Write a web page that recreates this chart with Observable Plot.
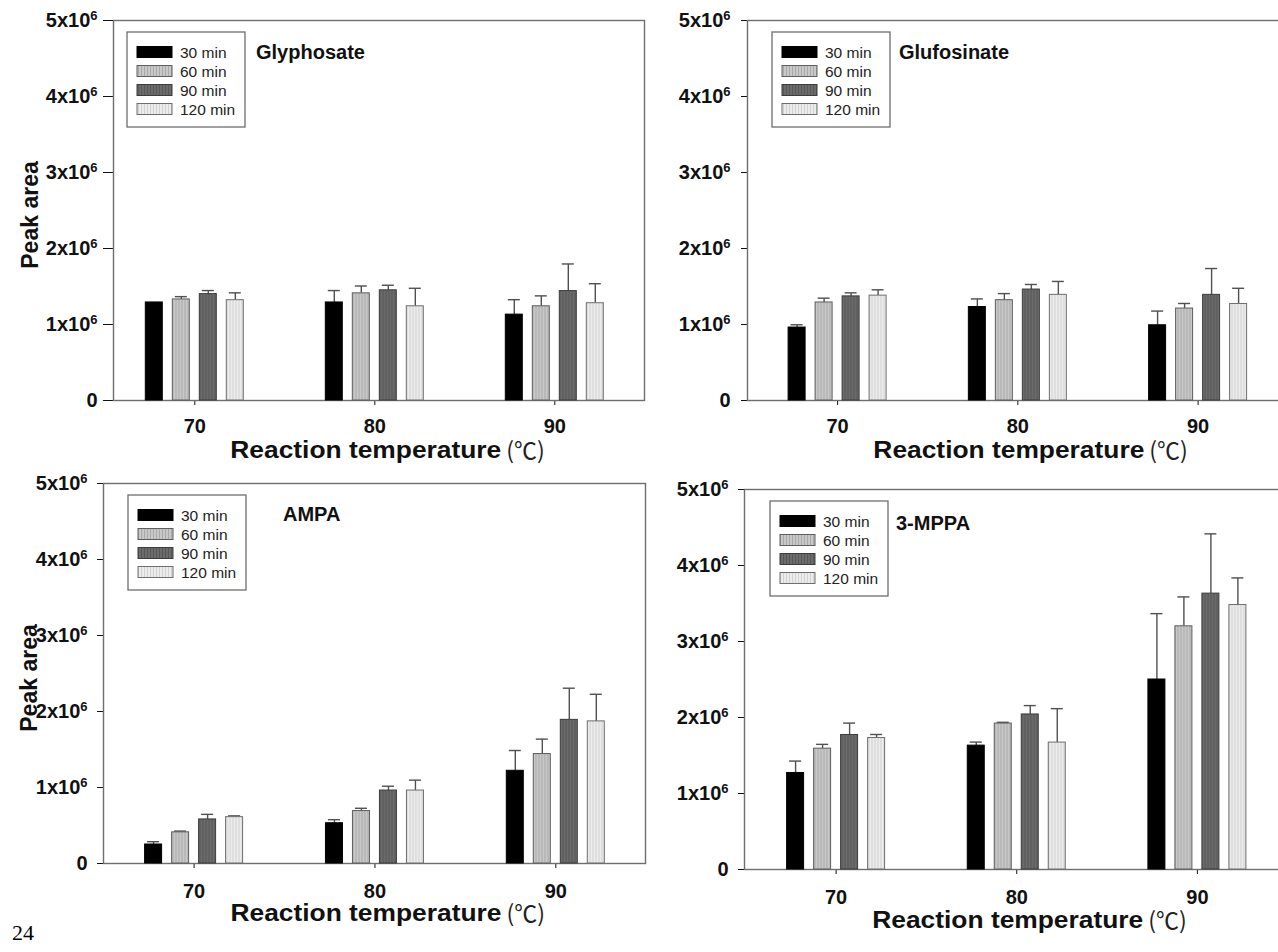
<!DOCTYPE html>
<html>
<head>
<meta charset="utf-8">
<script src="https://cdn.jsdelivr.net/npm/d3@7"></script>
<script src="https://cdn.jsdelivr.net/npm/@observablehq/plot@0.6"></script>
<style>
html, body { margin: 0; padding: 0; background: #fff; overflow: hidden; }
#page { position: relative; width: 1278px; height: 952px; overflow: hidden; background: #fff; }
.panel { position: absolute; }
#pagenum { position: absolute; left: 12px; top: 920px; font: 22px "Liberation Serif", "Times New Roman", serif; color: #000; }
</style>
</head>
<body>
<svg width="0" height="0" style="position:absolute">
  <defs>
    <pattern id="pat60" patternUnits="userSpaceOnUse" width="3" height="10">
      <rect width="3" height="10" fill="#c8c8c8"></rect>
      <rect width="1" height="10" fill="#a9a9a9"></rect>
    </pattern>
    <pattern id="pat90" patternUnits="userSpaceOnUse" width="3" height="10">
      <rect width="3" height="10" fill="#6b6b6b"></rect>
      <rect width="1" height="10" fill="#575757"></rect>
    </pattern>
    <pattern id="pat120" patternUnits="userSpaceOnUse" width="3" height="10">
      <rect width="3" height="10" fill="#ececec"></rect>
      <rect width="1" height="10" fill="#d2d2d2"></rect>
    </pattern>
  </defs>
</svg>
<div id="page"></div>
<div id="pagenum">24</div>
<script>
// ---------- data ----------
const temps = [70, 80, 90];
const series = ["30 min", "60 min", "90 min", "120 min"];
const yTicks = [0, 1e6, 2e6, 3e6, 4e6, 5e6];
const compounds = ["Glyphosate", "Glufosinate", "AMPA", "3-MPPA"];
const xTitle = "Reaction temperature";
const xUnit = "(℃)";
const yTitle = "Peak area";

// rows = temperatures (70, 80, 90); columns = series (30, 60, 90, 120 min)
const glyphosateMean = [[1.29e6, 1.33e6, 1.40e6, 1.32e6], [1.29e6, 1.41e6, 1.45e6, 1.24e6], [1.13e6, 1.24e6, 1.44e6, 1.28e6]];
const glyphosateErr  = [[0, 0.03e6, 0.04e6, 0.09e6], [0.15e6, 0.09e6, 0.06e6, 0.23e6], [0.19e6, 0.13e6, 0.35e6, 0.25e6]];
const glufosinateMean = [[0.96e6, 1.29e6, 1.37e6, 1.38e6], [1.23e6, 1.32e6, 1.46e6, 1.39e6], [0.99e6, 1.21e6, 1.39e6, 1.27e6]];
const glufosinateErr  = [[0.03e6, 0.05e6, 0.04e6, 0.07e6], [0.10e6, 0.08e6, 0.06e6, 0.17e6], [0.18e6, 0.06e6, 0.34e6, 0.20e6]];
const ampaMean = [[0.25e6, 0.41e6, 0.58e6, 0.61e6], [0.53e6, 0.69e6, 0.96e6, 0.96e6], [1.22e6, 1.44e6, 1.89e6, 1.87e6]];
const ampaErr  = [[0.03e6, 0.01e6, 0.06e6, 0.01e6], [0.04e6, 0.03e6, 0.05e6, 0.13e6], [0.26e6, 0.19e6, 0.41e6, 0.35e6]];
const mppaMean = [[1.27e6, 1.59e6, 1.77e6, 1.73e6], [1.63e6, 1.92e6, 2.04e6, 1.67e6], [2.50e6, 3.20e6, 3.63e6, 3.48e6]];
const mppaErr  = [[0.15e6, 0.05e6, 0.15e6, 0.04e6], [0.04e6, 0.01e6, 0.11e6, 0.44e6], [0.86e6, 0.38e6, 0.78e6, 0.35e6]];

// ---------- styles ----------
const fills = ["#000000", "url(#pat60)", "url(#pat90)", "url(#pat120)"];
const strokes = ["#000000", "#5e5e5e", "#3c3c3c", "#6e6e6e"];
const barOffsets = [-40.5, -13.5, 13.5, 40.5];
const barHalf = 8.5, capHalf = 6;
const FONT = "'Liberation Sans', Arial, Helvetica, sans-serif";

const panels = [
  {name: compounds[0], mean: glyphosateMean, err: glyphosateErr, left: 0, top: 0, width: 648, height: 470,
   mL: 113, mT: 20, mR: 4, mB: 70, xRange: [194.3, 554.3], yLabelX: 30, legendDx: 14, titleDx: 143, titleDy: 39, yTickSize: 10, yTickPad: 6, xTickPad: 13, xLabDy: 58},
  {name: compounds[1], mean: glufosinateMean, err: glufosinateErr, left: 648, top: 0, width: 640, height: 470,
   mL: 99, mT: 20, mR: 0, mB: 70, xRange: [189.1, 549.6], yLabelX: null, legendDx: 25, titleDx: 152, titleDy: 39, yTickSize: 6, yTickPad: 11, xTickPad: 13, xLabDy: 58},
  {name: compounds[2], mean: ampaMean, err: ampaErr, left: 0, top: 463, width: 648, height: 480,
   mL: 103, mT: 20, mR: 3, mB: 80, xRange: [193.6, 555.3], yLabelX: 29, legendDx: 25, titleDx: 180, titleDy: 38, yTickSize: 6, yTickPad: 10, xTickPad: 15, xLabDy: 58},
  {name: compounds[3], mean: mppaMean, err: mppaErr, left: 648, top: 469, width: 640, height: 480,
   mL: 96, mT: 20, mR: 0, mB: 80, xRange: [187.6, 548.9], yLabelX: null, legendDx: 26, titleDx: 152, titleDy: 41, yTickSize: 6, yTickPad: 10, xTickPad: 15, xLabDy: 59}
];

function annotate(p) {
  return (index, scales, values, dims) => {
    const {height, marginLeft, marginTop, marginBottom} = dims;
    const x0 = marginLeft, y0 = marginTop, y1 = height - marginBottom;
    const g = d3.create("svg:g").attr("text-anchor", "start");
    // panel title
    g.append("text").attr("x", x0 + p.titleDx).attr("y", y0 + p.titleDy).attr("text-anchor", "start")
      .attr("font-family", FONT).attr("font-weight", "bold").attr("font-size", 20).attr("fill", "#111")
      .text(p.name);
    // legend
    const lx = x0 + p.legendDx, ly = y0 + 12;
    g.append("rect").attr("x", lx).attr("y", ly).attr("width", 118).attr("height", 95)
      .attr("fill", "#fff").attr("stroke", "#6e6e6e").attr("stroke-width", 1.3);
    series.forEach((s, j) => {
      const cy = ly + 20 + j * 19;
      g.append("rect").attr("x", lx + 10).attr("y", cy - 5.5).attr("width", 35).attr("height", 11)
        .attr("fill", fills[j]).attr("stroke", strokes[j]).attr("stroke-width", 1);
      g.append("text").attr("x", lx + 53).attr("y", cy).attr("dy", "0.36em").attr("text-anchor", "start")
        .attr("font-family", FONT).attr("font-weight", "normal").attr("font-size", 15.5).attr("fill", "#222").text(s);
    });
    // x axis title
    const xs = scales.x(temps[1]) - 144;
    g.append("text").attr("x", xs).attr("y", y1 + p.xLabDy).attr("text-anchor", "start")
      .attr("font-family", FONT).attr("font-weight", "bold").attr("font-size", 23).attr("fill", "#111")
      .attr("textLength", 271).attr("lengthAdjust", "spacingAndGlyphs").text(xTitle);
    g.append("text").attr("x", xs + 276).attr("y", y1 + p.xLabDy + 1).attr("text-anchor", "start")
      .attr("font-family", "'Noto Sans CJK SC', 'DejaVu Sans', sans-serif").attr("font-weight", "normal")
      .attr("font-size", 23).attr("fill", "#222").text(xUnit);
    // y axis title
    if (p.yLabelX != null) {
      g.append("text").attr("transform", `translate(${p.yLabelX},${(y0 + y1) / 2 + 5}) rotate(-90)`)
        .attr("text-anchor", "middle").attr("dy", "0.36em")
        .attr("font-family", FONT).attr("font-weight", "bold").attr("font-size", 23).attr("fill", "#111")
        .text(yTitle);
    }
    return g.node();
  };
}

const page = document.getElementById("page");
for (const p of panels) {
  const rows = temps.flatMap((t, i) => series.map((s, j) => ({temp: t, series: s, value: p.mean[i][j], err: p.err[i][j]})));
  const seriesMarks = series.flatMap((s, j) => {
    const d = rows.filter(r => r.series === s);
    const e = d.filter(r => r.err > 0);
    return [
      Plot.ruleX(e, {x: "temp", y1: "value", y2: r => r.value + r.err, dx: barOffsets[j], stroke: "#505050", strokeWidth: 1.4}),
      Plot.rect(e, {x1: "temp", x2: "temp", y1: r => r.value + r.err, y2: r => r.value + r.err,
        insetLeft: -capHalf, insetRight: -capHalf, insetTop: -0.7, insetBottom: -0.7, dx: barOffsets[j], fill: "#505050"}),
      Plot.rect(d, {x1: "temp", x2: "temp", y1: r => 0, y2: "value",
        insetLeft: -barHalf, insetRight: -barHalf, dx: barOffsets[j], fill: fills[j], stroke: strokes[j], strokeWidth: 1})
    ];
  });
  const svg = Plot.plot({
    width: p.width, height: p.height,
    marginLeft: p.mL, marginTop: p.mT, marginRight: p.mR, marginBottom: p.mB,
    style: {background: "transparent", overflow: "visible", maxWidth: "none", fontFamily: FONT, fontSize: "20px", fontWeight: "bold", color: "#111"},
    x: {type: "linear", domain: [temps[0], temps[2]], range: p.xRange, ticks: temps, tickSize: 5, tickPadding: p.xTickPad, tickFormat: d => String(d), label: null},
    y: {domain: [0, 5e6], ticks: yTicks, tickSize: p.yTickSize, tickPadding: p.yTickPad, tickFormat: d => d === 0 ? "0" : `${d / 1e6}x10⁶`, label: null},
    marks: [
      Plot.frame({stroke: "#6e6e6e", strokeWidth: 1.4}),
      ...seriesMarks,
      annotate(p)
    ]
  });
  // superscript exponent on y tick labels
  svg.querySelectorAll("text").forEach(t => {
    const m = /^(\d)x10⁶$/.exec(t.textContent);
    if (m) {
      t.textContent = `${m[1]}x10`;
      const ts = document.createElementNS("http://www.w3.org/2000/svg", "tspan");
      ts.setAttribute("dy", "-7");
      ts.setAttribute("font-size", "13");
      ts.textContent = "6";
      t.appendChild(ts);
    }
  });
  const div = document.createElement("div");
  div.className = "panel";
  div.style.left = p.left + "px";
  div.style.top = p.top + "px";
  div.style.width = p.width + "px";
  div.appendChild(svg);
  page.appendChild(div);
}
</script>
</body>
</html>
